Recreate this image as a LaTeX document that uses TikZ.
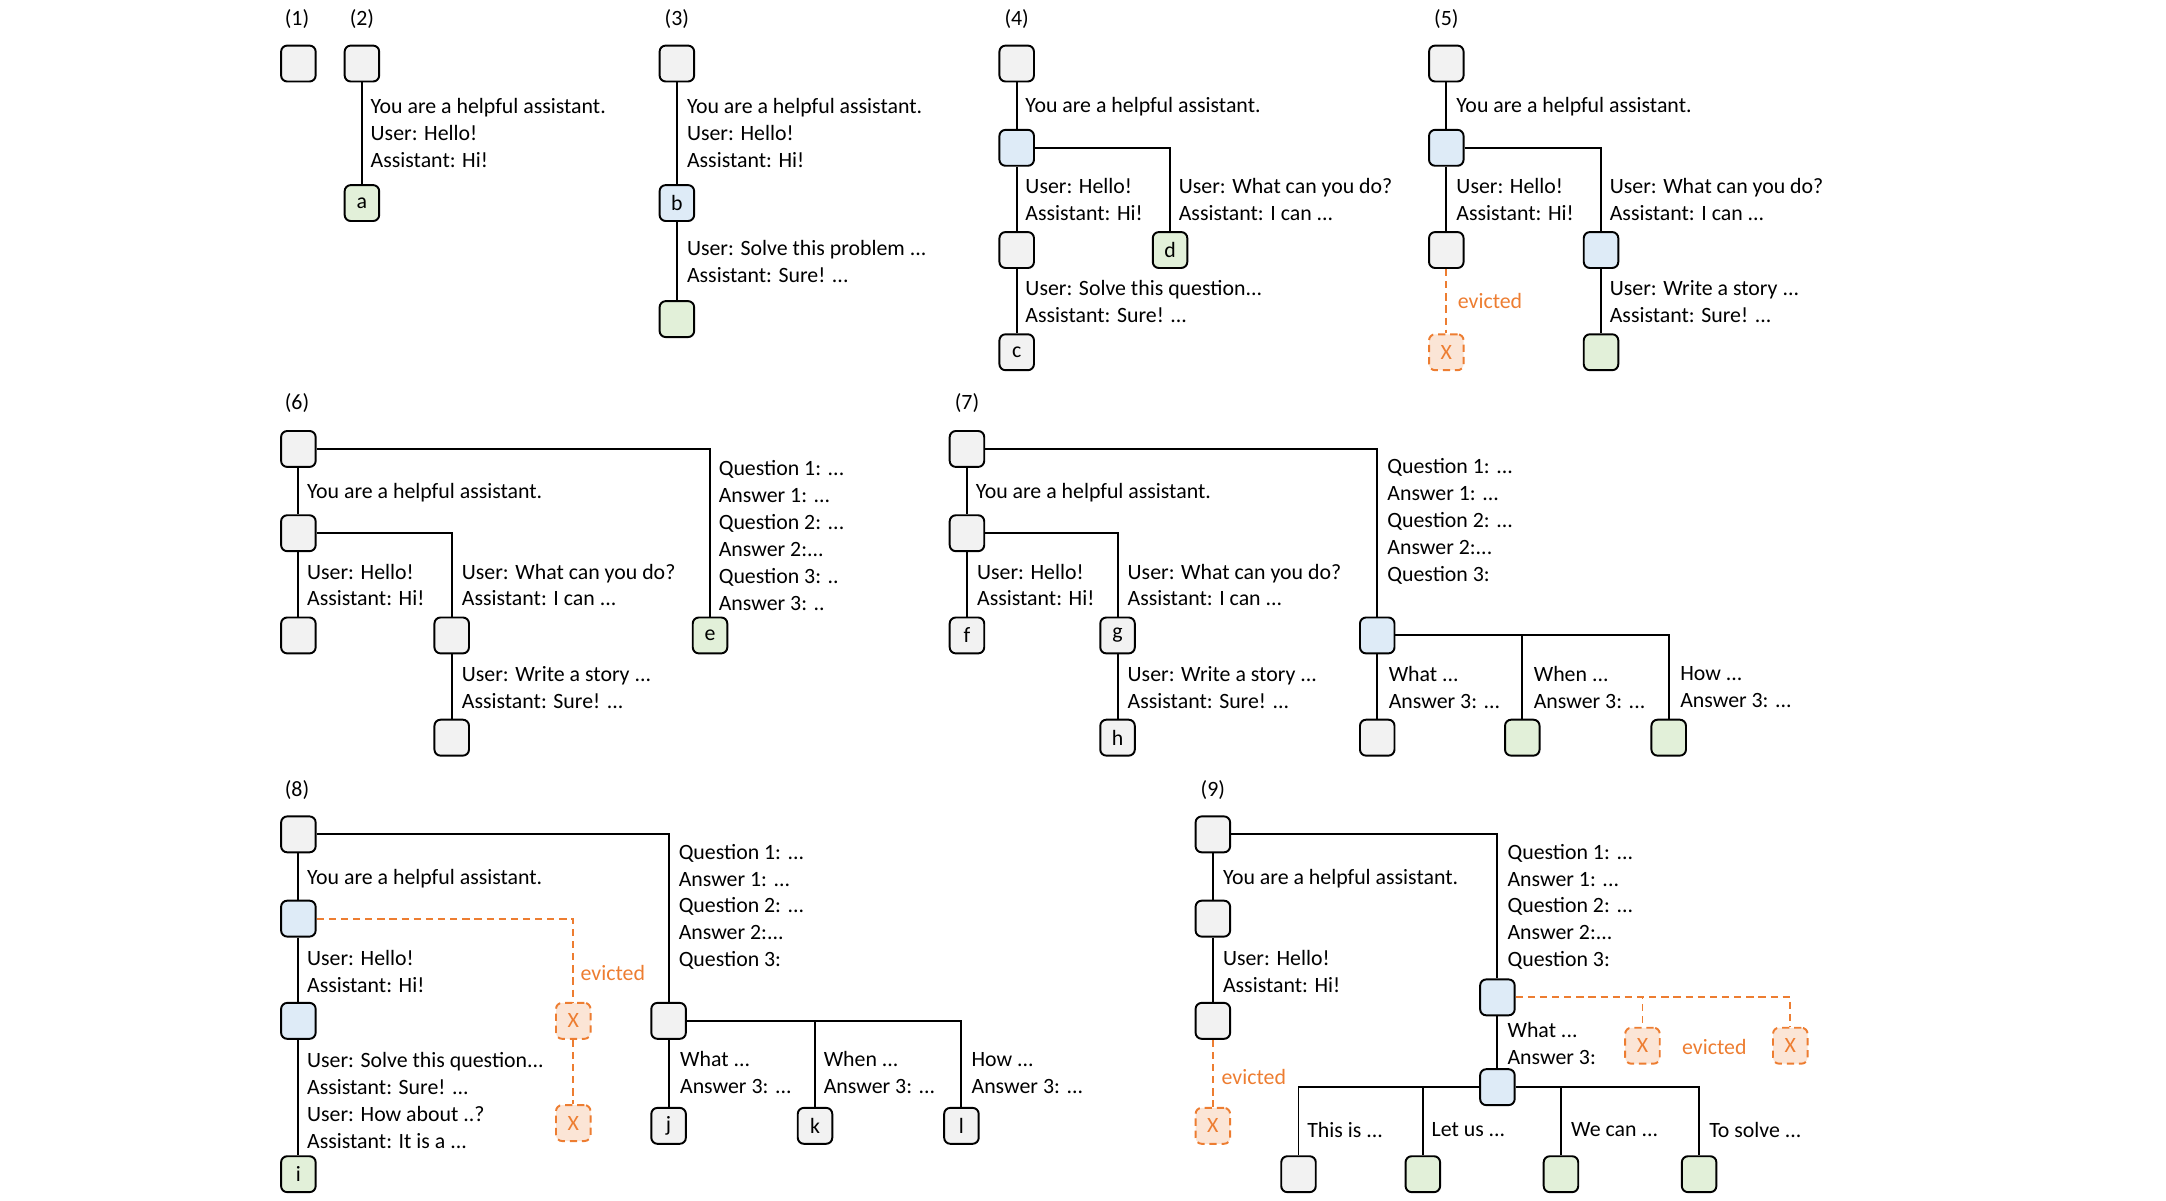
\documentclass[tikz,border=0pt]{standalone}
\usepackage{fontspec}
\setmainfont{Carlito}
\usetikzlibrary{positioning}
\definecolor{boxgray}{HTML}{F2F2F2}
\definecolor{boxblue}{HTML}{DEEBF7}
\definecolor{boxgreen}{HTML}{E2F0D9}
\definecolor{evorange}{HTML}{ED7D31}
\definecolor{evfill}{HTML}{FBE5D6}
\tikzset{
  blk/.style={draw, line width=0.8pt, rounded corners=2.5pt, fill=boxgray,
    minimum width=0.5cm, minimum height=0.52cm, inner sep=0pt,
    font=\fontsize{9}{11}\selectfont},
  blu/.style={blk, fill=boxblue},
  grn/.style={blk, fill=boxgreen},
  gone/.style={blk, draw=evorange, fill=evfill, dash pattern=on 3pt off 2pt, text=evorange},
  msg/.style={anchor=west, align=left, inner sep=0pt, font=\fontsize{9}{11.1}\selectfont},
  tag/.style={inner sep=0pt, font=\fontsize{9}{11}\selectfont},
  evtxt/.style={msg, text=evorange},
  lnk/.style={line width=0.8pt},
  evl/.style={line width=0.8pt, draw=evorange, dash pattern=on 3pt off 2pt},
}
\begin{document}
\begin{tikzpicture}[x=0.02cm, y=-0.02cm]
\useasboundingbox (0,0) rectangle (1568,869);

% (1) and (2)
\node[tag] (t1) at (215,14) {(1)};
\node[tag] (t2) at (262,14) {(2)};
\node[blk] (a1) at (216,46) {};
\node[blk] (b1) at (262,46) {};
\node[grn] (b2) at (262,147) {a};
\draw[lnk] (b1) -- (b2);
\node[msg] (bm1) at (268,96.5) {You are a helpful assistant.\\User: Hello!\\Assistant: Hi!};

% (3)
\node[tag] (t3) at (490,14) {(3)};
\node[blk] (c1) at (490,46) {};
\node[blu] (c2) at (490,147) {b};
\node[grn] (c3) at (490,231) {};
\draw[lnk] (c1) -- (c2) (c2) -- (c3);
\node[msg] (cm1) at (497,96.5) {You are a helpful assistant.\\User: Hello!\\Assistant: Hi!};
\node[msg] (cm2) at (497,189.5) {User: Solve this problem ...\\Assistant: Sure! ...};

% (4)
\node[tag] (t4) at (736,14) {(4)};
\node[blk] (d1) at (736,46) {};
\node[blu] (d2) at (736,107) {};
\node[blk] (d3) at (736,181) {};
\node[blk] (d4) at (736,255) {c};
\node[grn] (d5) at (847,181) {d};
\draw[lnk] (d1) -- (d2) (d2) -- (d3) (d3) -- (d4);
\draw[lnk] (d2.east) -| (d5.north);
\node[msg] (dm1) at (742,77) {You are a helpful assistant.};
\node[msg] (dm2) at (742,144.5) {User: Hello!\\Assistant: Hi!};
\node[msg] (dm3) at (853,144.5) {User: What can you do?\\Assistant: I can ...};
\node[msg] (dm4) at (742,218.5) {User: Solve this question...\\Assistant: Sure! ...};

% (5)
\node[tag] (t5) at (1047,14) {(5)};
\node[blk] (e1) at (1047,46) {};
\node[blu] (e2) at (1047,107) {};
\node[blk] (e3) at (1047,181) {};
\node[gone] (e4) at (1047,255) {X};
\node[blu] (e5) at (1159,181) {};
\node[grn] (e6) at (1159,255) {};
\draw[lnk] (e1) -- (e2) (e2) -- (e3) (e5) -- (e6);
\draw[lnk] (e2.east) -| (e5.north);
\draw[evl] (e3) -- (e4);
\node[msg] (em1) at (1054,77) {You are a helpful assistant.};
\node[msg] (em2) at (1054,144.5) {User: Hello!\\Assistant: Hi!};
\node[msg] (em3) at (1165,144.5) {User: What can you do?\\Assistant: I can ...};
\node[msg] (em4) at (1165,218.5) {User: Write a story ...\\Assistant: Sure! ...};
\node[evtxt] (ev5) at (1055,218) {evicted};

% (6)
\node[tag] (t6) at (215,292) {(6)};
\node[blk] (f1) at (216,325) {};
\node[blk] (f2) at (216,386) {};
\node[blk] (f3) at (216,460) {};
\node[blk] (f4) at (327,460) {};
\node[blk] (f5) at (327,534) {};
\node[grn] (f6) at (514,460) {e};
\draw[lnk] (f1) -- (f2) (f2) -- (f3) (f4) -- (f5);
\draw[lnk] (f2.east) -| (f4.north);
\draw[lnk] (f1.east) -| (f6.north);
\node[msg] (fm1) at (222,357) {You are a helpful assistant.};
\node[msg] (fm2) at (222,423.5) {User: Hello!\\Assistant: Hi!};
\node[msg] (fm3) at (334,423.5) {User: What can you do?\\Assistant: I can ...};
\node[msg] (fm4) at (334,497.5) {User: Write a story ...\\Assistant: Sure! ...};
\node[msg] (fm5) at (520,387.5) {Question 1: ...\\Answer 1: ...\\Question 2: ...\\Answer 2:...\\Question 3: ..\\Answer 3: ..};

% (7)
\node[tag] (t7) at (700,292) {(7)};
\node[blk] (g1) at (700,325) {};
\node[blk] (g2) at (700,386) {};
\node[blk] (g3) at (700,460) {f};
\node[blk] (g4) at (809,460) {g};
\node[blk] (g5) at (809,534) {h};
\node[blu] (g6) at (997,460) {};
\node[blk] (g7) at (997,534) {};
\node[grn] (g8) at (1102,534) {};
\node[grn] (g9) at (1208,534) {};
\draw[lnk] (g1) -- (g2) (g2) -- (g3) (g4) -- (g5) (g6) -- (g7);
\draw[lnk] (g2.east) -| (g4.north);
\draw[lnk] (g1.east) -| (g6.north);
\draw[lnk] (g6.east) -| (g8.north);
\draw[lnk] (g6.east) -| (g9.north);
\node[msg] (gm1) at (706,357) {You are a helpful assistant.};
\node[msg] (gm2) at (707,423.5) {User: Hello!\\Assistant: Hi!};
\node[msg] (gm3) at (816,423.5) {User: What can you do?\\Assistant: I can ...};
\node[msg] (gm4) at (816,497.5) {User: Write a story ...\\Assistant: Sure! ...};
\node[msg] (gm5) at (1004,377.5) {Question 1: ...\\Answer 1: ...\\Question 2: ...\\Answer 2:...\\Question 3:};
\node[msg] (gm6) at (1005,497.5) {What ...\\Answer 3: ...};
\node[msg] (gm7) at (1110,497.5) {When ...\\Answer 3: ...};
\node[msg] (gm8) at (1216,497.5) {How ...\\Answer 3: ...};

% (8)
\node[tag] (t8) at (215,572) {(8)};
\node[blk] (h1) at (216,604) {};
\node[blu] (h2) at (216,665) {};
\node[blu] (h3) at (216,739) {};
\node[grn] (h4) at (216,850) {i};
\node[gone] (h5) at (415,739) {X};
\node[gone] (h6) at (415,813) {X};
\node[blk] (h7) at (484,739) {};
\node[blk] (h8) at (484,815) {j};
\node[blk] (h9) at (590,815) {k};
\node[blk] (h10) at (696,815) {l};
\draw[lnk] (h1) -- (h2) (h2) -- (h3) (h3) -- (h4) (h7) -- (h8);
\draw[lnk] (h1.east) -| (h7.north);
\draw[lnk] (h7.east) -| (h9.north);
\draw[lnk] (h7.east) -| (h10.north);
\draw[evl] (h2.east) -| (h5.north);
\draw[evl] (h5) -- (h6);
\node[msg] (hm1) at (222,636) {You are a helpful assistant.};
\node[msg] (hm2) at (222,703.5) {User: Hello!\\Assistant: Hi!};
\node[msg] (hm3) at (222,796.5) {User: Solve this question...\\Assistant: Sure! ...\\User: How about ..?\\Assistant: It is a ...};
\node[msg] (hm4) at (491,656.5) {Question 1: ...\\Answer 1: ...\\Question 2: ...\\Answer 2:...\\Question 3:};
\node[msg] (hm5) at (492,776.5) {What ...\\Answer 3: ...};
\node[msg] (hm6) at (596,776.5) {When ...\\Answer 3: ...};
\node[msg] (hm7) at (703,776.5) {How ...\\Answer 3: ...};
\node[evtxt] (ev8) at (420,704) {evicted};

% (9)
\node[tag] (t9) at (878,572) {(9)};
\node[blk] (k1) at (878,604) {};
\node[blk] (k2) at (878,665) {};
\node[blk] (k3) at (878,739) {};
\node[gone] (k4) at (878,815) {X};
\node[blu] (k5) at (1084,722) {};
\node[blu] (k6) at (1084,787) {};
\node[gone] (k7) at (1189,757) {X};
\node[gone] (k8) at (1296,757) {X};
\node[blk] (k9) at (940,850) {};
\node[grn] (k10) at (1030,850) {};
\node[grn] (k11) at (1130,850) {};
\node[grn] (k12) at (1230,850) {};
\draw[lnk] (k1) -- (k2) (k2) -- (k3) (k5) -- (k6);
\draw[lnk] (k1.east) -| (k5.north);
\draw[lnk] (k6.west) -| (k9.north);
\draw[lnk] (k6.west) -| (k10.north);
\draw[lnk] (k6.east) -| (k11.north);
\draw[lnk] (k6.east) -| (k12.north);
\draw[evl] (k3) -- (k4);
\draw[evl] (k5.east) -| (k7.north);
\draw[evl] (k5.east) -| (k8.north);
\node[msg] (km1) at (885,636) {You are a helpful assistant.};
\node[msg] (km2) at (885,703.5) {User: Hello!\\Assistant: Hi!};
\node[msg] (km3) at (1091,656.5) {Question 1: ...\\Answer 1: ...\\Question 2: ...\\Answer 2:...\\Question 3:};
\node[msg] (km4) at (1091,755.5) {What ...\\Answer 3:};
\node[msg] (km5) at (946,818) {This is ...};
\node[msg] (km6) at (1036,818) {Let us ...};
\node[msg] (km7) at (1137,818) {We can ...};
\node[msg] (km8) at (1237,818) {To solve ...};
\node[evtxt] (ev9a) at (884,780) {evicted};
\node[evtxt, anchor=center] (ev9b) at (1241,758) {evicted};
\end{tikzpicture}
\end{document}
